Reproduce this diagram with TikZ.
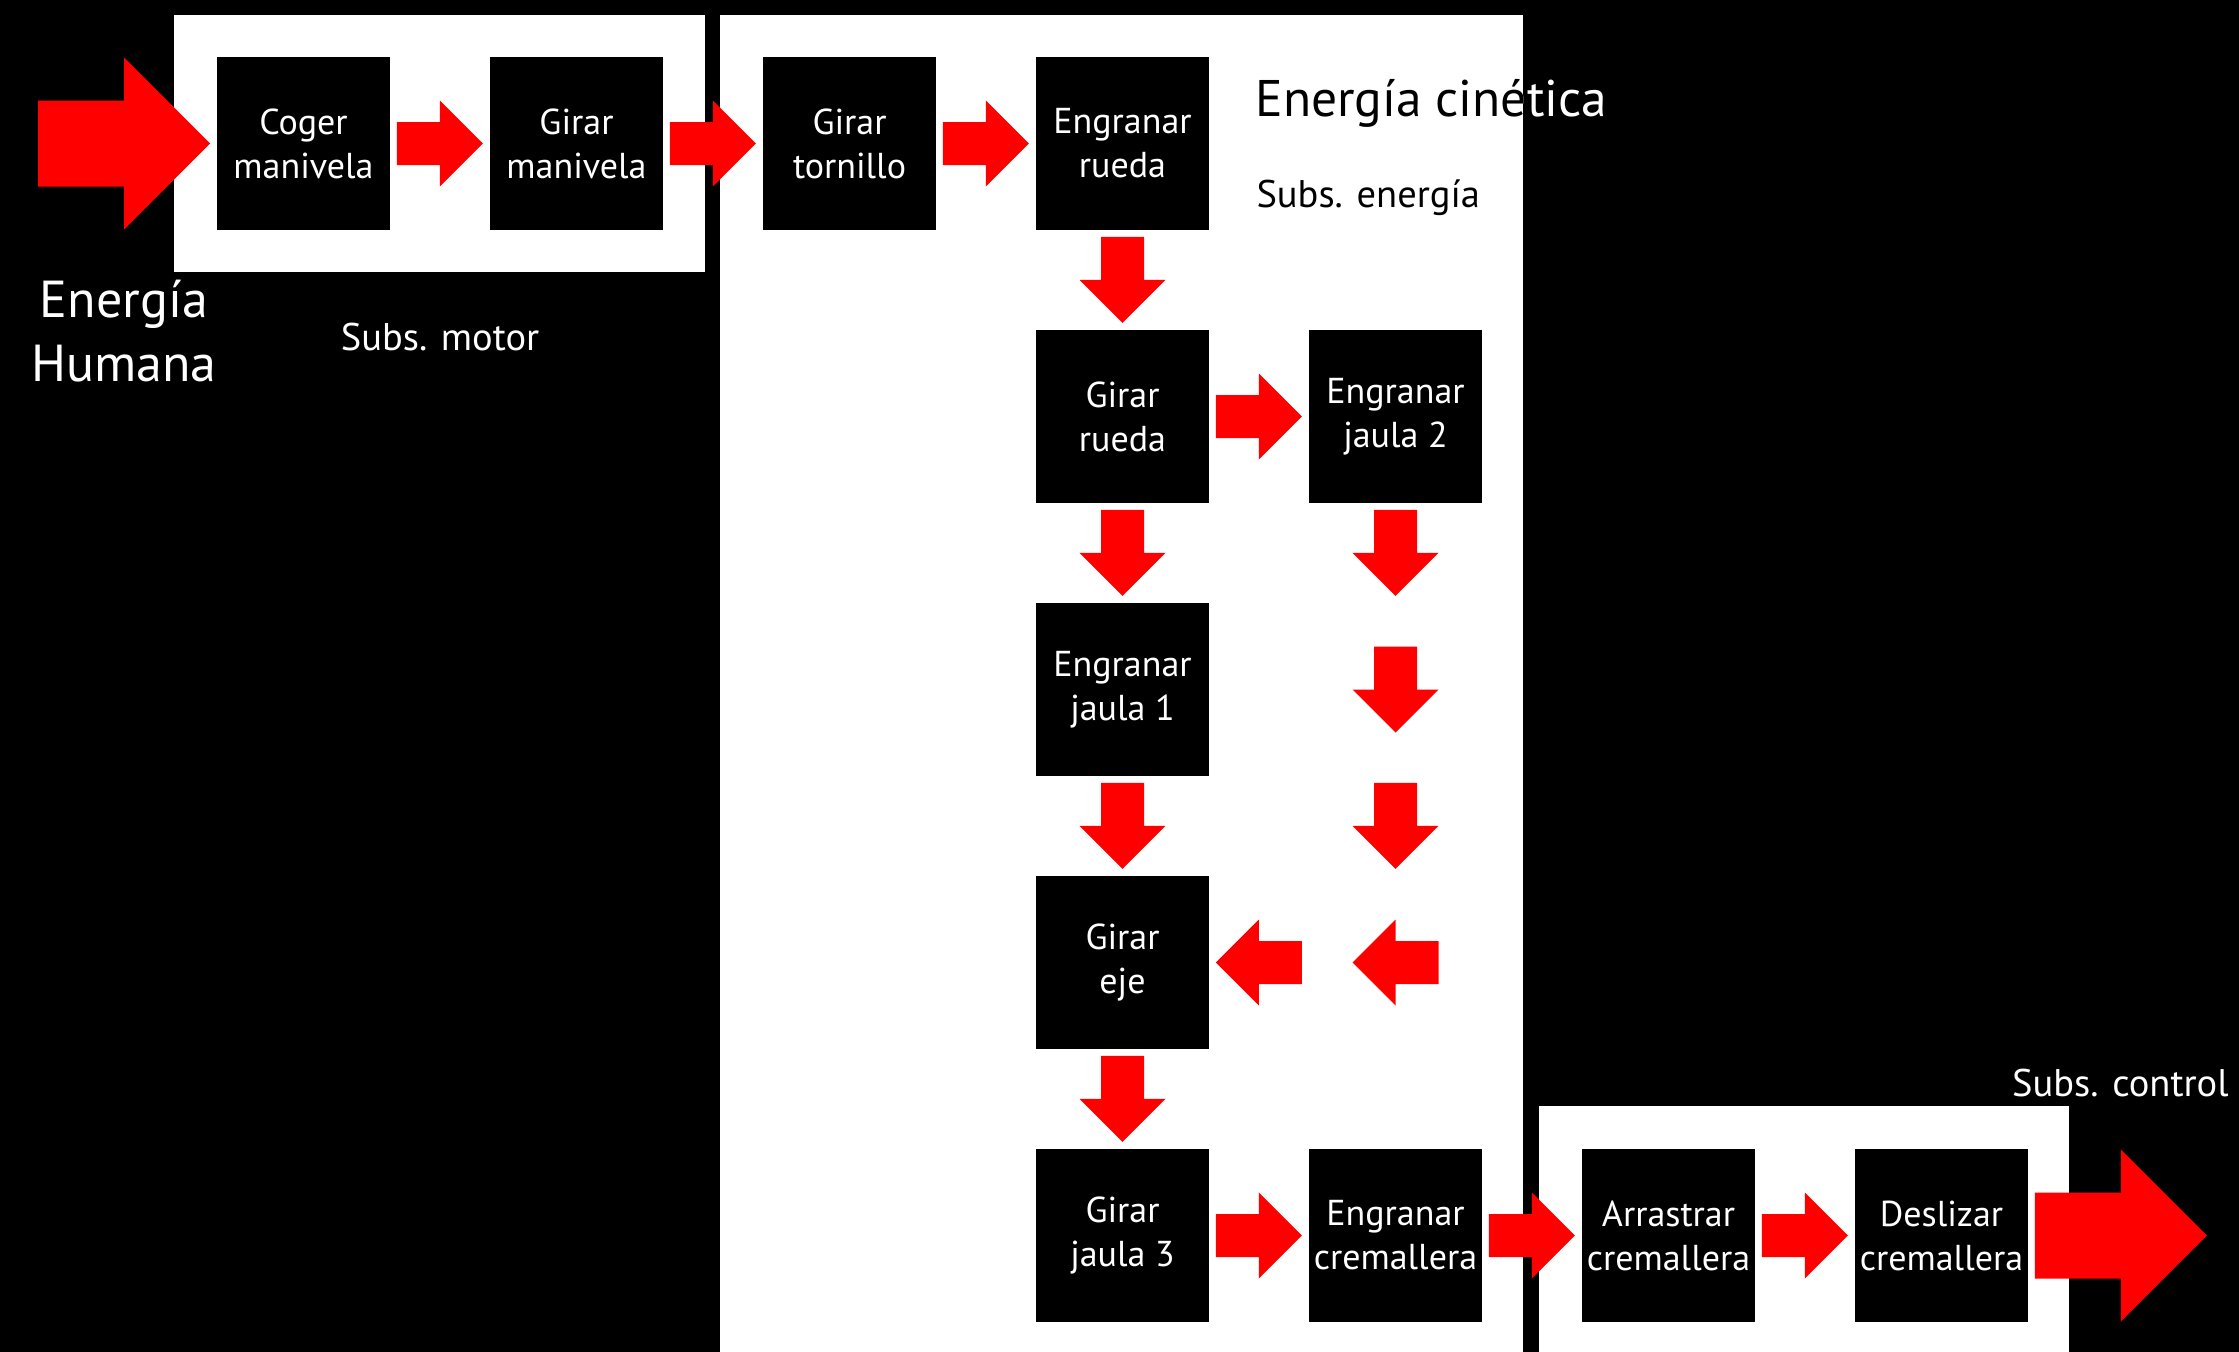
\documentclass[tikz,border=0pt]{standalone}
\usepackage{fontspec}
\setmainfont{PT Sans}
\usetikzlibrary{calc}
\definecolor{arrowred}{RGB}{255,0,0}
\begin{document}
\begin{tikzpicture}[x=1pt,y=-1pt,
  stepbox/.style={fill=black,text=white,minimum width=172.5pt,minimum height=172.5pt,
    inner sep=0pt,align=center,font=\fontsize{36}{44}\selectfont},
  pics/blockarrow/.style={code={
    \fill[arrowred] (0,-21.5) -- (43,-21.5) -- (43,-43) -- (86,0) -- (43,43)
      -- (43,21.5) -- (0,21.5) -- cycle;}},
  subsfont/.style={font=\fontsize{38.5}{47}\selectfont},
  titlefont/.style={font=\fontsize{51.5}{63}\selectfont},
]
% canvas
\useasboundingbox (0,0) rectangle (2239,1352);
\fill[black] (0,0) rectangle (2239,1352);

% subsystem panels
\fill[white] (174,15) rectangle (705,272);
\fill[white] (720,15) rectangle (1523,1352);
\fill[white] (1539,1106) rectangle (2069,1352);

% process steps
\node[stepbox] (b00) at (303.5,143.5) {Coger\\manivela};
\node[stepbox] (b01) at (576.5,143.5) {Girar\\manivela};
\node[stepbox] (b02) at (849.5,143.5) {Girar\\tornillo};
\node[stepbox] (b03) at (1122.5,143.5) {Engranar\\rueda};
\node[stepbox] (b13) at (1122.5,416.5) {Girar\\rueda};
\node[stepbox] (b14) at (1395.5,416.5) {Engranar\\jaula 2};
\node[stepbox] (b23) at (1122.5,689.5) {Engranar\\jaula 1};
\node[stepbox] (b33) at (1122.5,962.5) {Girar\\eje};
\node[stepbox] (b43) at (1122.5,1235.5) {Girar\\jaula 3};
\node[stepbox] (b44) at (1395.5,1235.5) {Engranar\\cremallera};
\node[stepbox] (b45) at (1668.5,1235.5) {Arrastrar\\cremallera};
\node[stepbox] (b46) at (1941.5,1235.5) {Deslizar\\cremallera};

% energy flow
\pic[scale=2] at ($(b00.west)+(-179,0)$) {blockarrow};
\pic at ($(b00.east)+(7,0)$) {blockarrow};
\pic at ($(b01.east)+(7,0)$) {blockarrow};
\pic at ($(b02.east)+(7,0)$) {blockarrow};
\pic[rotate=-90] at ($(b03.south)+(0,7)$) {blockarrow};
\pic at ($(b13.east)+(7,0)$) {blockarrow};
\pic[rotate=-90] at ($(b13.south)+(0,7)$) {blockarrow};
\pic[rotate=-90] at ($(b14.south)+(0,7)$) {blockarrow};
\pic[rotate=-90] at ($(b23 -| b14)+(0,-43)$) {blockarrow};
\pic[rotate=-90] at ($(b23.south -| b14)+(0,7)$) {blockarrow};
\pic[rotate=180] at ($(b33 -| b14)+(43,0)$) {blockarrow};
\pic[rotate=180] at ($(b33.east)+(93,0)$) {blockarrow};
\pic[rotate=-90] at ($(b23.south)+(0,7)$) {blockarrow};
\pic[rotate=-90] at ($(b33.south)+(0,7)$) {blockarrow};
\pic at ($(b43.east)+(7,0)$) {blockarrow};
\pic at ($(b44.east)+(7,0)$) {blockarrow};
\pic at ($(b45.east)+(7,0)$) {blockarrow};
\pic[scale=2] at ($(b46.east)+(7,0)$) {blockarrow};

% labels
\node[text=white,align=center,font=\fontsize{52}{64}\selectfont] (ehum) at (124,331) {Energía\\Humana};
\node[text=white,subsfont,anchor=base] (smotor) at (440,350) {Subs. motor};
\node[text=white,titlefont,anchor=base west] (ecin) at (1252,116) {Energía cinética};
\begin{scope}
  \clip (720,15) rectangle (1523,1352);
  \node[text=black,titlefont,anchor=base west] (ecinb) at (1252,116) {Energía cinética};
\end{scope}
\node[text=black,subsfont,anchor=base west] (senergia) at (1253,207) {Subs. energía};
\node[text=white,subsfont,anchor=base east] (scontrol) at (2232,1096) {Subs. control};
\end{tikzpicture}
\end{document}
